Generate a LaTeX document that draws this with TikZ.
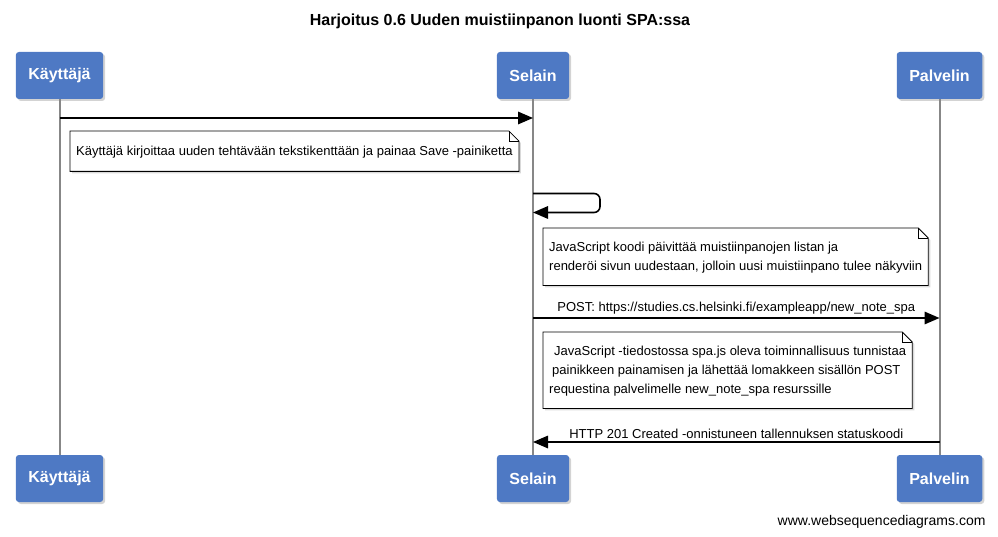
\documentclass[tikz,border=0pt]{standalone}
\usepackage{fontspec}
\setmainfont{Liberation Sans}
\usetikzlibrary{arrows.meta,shadows,backgrounds}
\tikzset{>={Triangle[length=15pt,width=12.5pt]}}
\definecolor{actorblue}{RGB}{78,121,196}
\definecolor{lifegray}{RGB}{135,135,135}
\newcommand{\notefont}{\fontsize{13}{19}\selectfont}
\newcommand{\drawnote}[1]{%
  \begin{scope}[on background layer]
    \draw[noteline] (#1.north west) -- ([xshift=-10pt]#1.north east)
      -- ([yshift=-10pt]#1.north east) -- (#1.south east)
      -- (#1.south west) -- cycle;
  \end{scope}
  \draw[line width=0.6pt] ([xshift=-10pt]#1.north east) |- ([yshift=-10pt]#1.north east);
}
\tikzset{
  actor/.style={rectangle, rounded corners=3pt, fill=actorblue, text=white,
    font=\fontsize{16}{16}\selectfont\bfseries, inner xsep=12.5pt,
    minimum height=47pt,
    drop shadow={shadow xshift=2pt, shadow yshift=-2pt, opacity=0.35}},
  life/.style={draw=lifegray, line width=2pt},
  msg/.style={->, line width=1.6pt},
  lbl/.style={above, inner sep=3pt, font=\notefont},
  note/.style={anchor=north west, inner xsep=6pt, inner ysep=0pt,
    align=left, font=\notefont, text depth=1pt},
  noteline/.style={draw, fill=white, line width=0.8pt,
    drop shadow={shadow xshift=2pt, shadow yshift=-2pt, opacity=0.3}}
}
\begin{document}
\begin{tikzpicture}[x=1pt,y=-1pt]
  \useasboundingbox (0,0) rectangle (998,537);
  % title
  \node[font=\fontsize{16}{16}\selectfont\bfseries] (title) at (500,21)
    {Harjoitus 0.6 Uuden muistiinpanon luonti SPA:ssa};
  % participants
  \node[actor] (u) at (59.5,75.5) {Käyttäjä};
  \node[actor] (s) at (533,75.5) {Selain};
  \node[actor] (p) at (939.5,75.5) {Palvelin};
  \node[actor] (ub) at (59.5,478.5) {Käyttäjä};
  \node[actor] (sb) at (533,478.5) {Selain};
  \node[actor] (pb) at (939.5,478.5) {Palvelin};
  % lifelines
  \draw[life] (u.south) -- (ub.north);
  \draw[life] (s.south) -- (sb.north);
  \draw[life] (p.south) -- (pb.north);
  % message levels
  \coordinate (m1) at (0,118);
  \coordinate (m2) at (0,193.5);
  \coordinate (m3) at (0,212.5);
  \coordinate (m4) at (0,318);
  \coordinate (m5) at (0,442);
  % messages
  \draw[msg] (u |- m1) -- (s |- m1);
  \node[note, minimum height=40pt] (n1) at (70,131)
    {Käyttäjä kirjoittaa uuden tehtävään tekstikenttään ja painaa Save -painiketta};
  \drawnote{n1}
  \draw[msg, rounded corners=6pt] (s |- m2) -- ++(67,0) |- (s |- m3);
  \node[note, minimum height=57pt] (n2) at (543,228)
    {JavaScript koodi päivittää muistiinpanojen listan ja\\
     renderöi sivun uudestaan, jolloin uusi muistiinpano tulee näkyviin};
  \drawnote{n2}
  \draw[msg] (s |- m4) -- node[lbl] {POST: https://studies.cs.helsinki.fi/exampleapp/new\_note\_spa} (p |- m4);
  \node[note, minimum height=76pt] (n3) at (543,332)
    {\hspace*{5pt}JavaScript -tiedostossa spa.js oleva toiminnallisuus tunnistaa\\
     \hspace*{3pt}painikkeen painamisen ja lähettää lomakkeen sisällön POST\\
     requestina palvelimelle new\_note\_spa resurssille};
  \drawnote{n3}
  \draw[msg] (p |- m5) -- node[lbl] {HTTP 201 Created -onnistuneen tallennuksen statuskoodi} (s |- m5);
  % footer
  \node[anchor=east, font=\fontsize{14}{14}\selectfont] (wsd) at (989,521.5)
    {www.websequencediagrams.com};
\end{tikzpicture}
\end{document}
